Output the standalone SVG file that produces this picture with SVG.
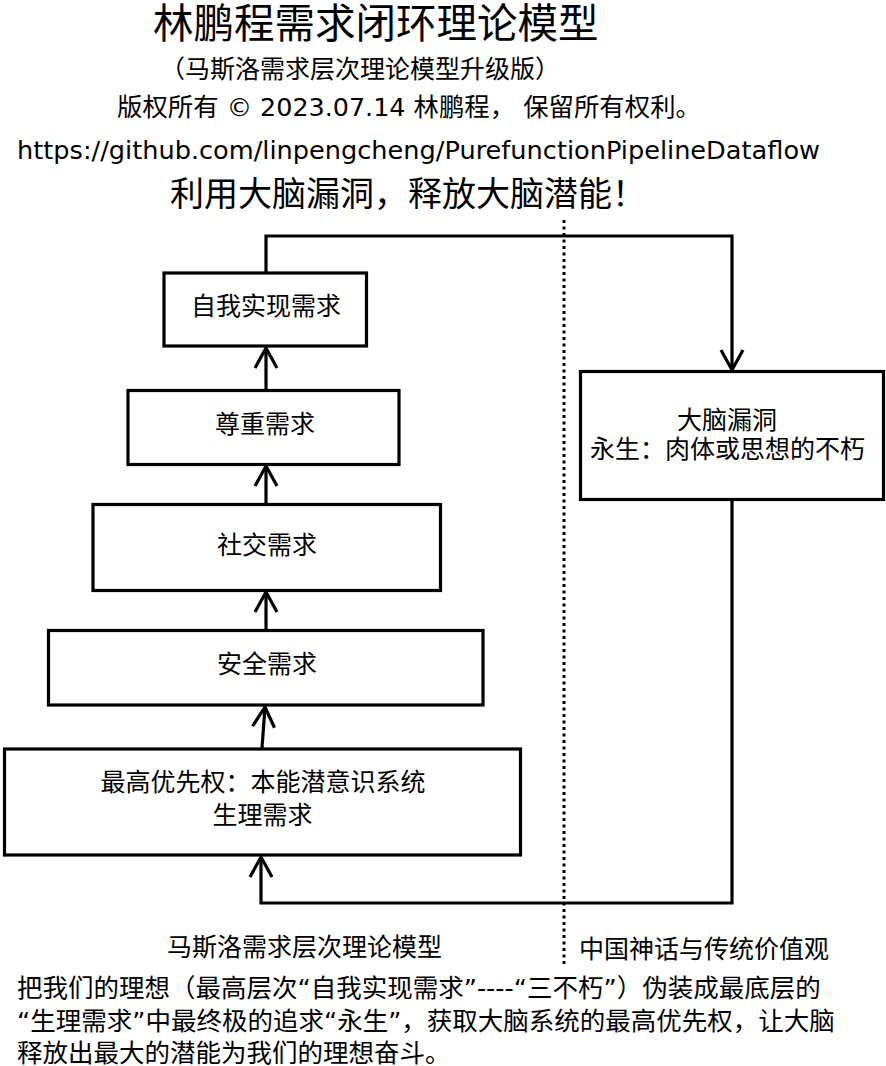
<svg xmlns="http://www.w3.org/2000/svg" width="886" height="1066" viewBox="0 0 886 1066">
  <style>
    text { font-family: "DejaVu Sans", "Noto Sans CJK SC", sans-serif; fill: #000; }
    .t25 { font-size: 25px; }
    .mid { text-anchor: middle; }
    .box { fill: #fff; stroke: #000; stroke-width: 3.2; }
    .wire { fill: none; stroke: #000; stroke-width: 3.2; }
    .divider { fill: none; stroke: #000; stroke-width: 3; stroke-dasharray: 3 3.5; }
  </style>
  <defs>
    <marker id="vee" markerUnits="userSpaceOnUse" viewBox="-24 -14 28 28" refX="0" refY="0" markerWidth="28" markerHeight="28" orient="auto" overflow="visible">
      <path d="M -20 -11 L 0 0 L -20 11" fill="none" stroke="#000" stroke-width="3.2" stroke-linejoin="miter"/>
    </marker>
  </defs>

  <rect width="886" height="1066" fill="#fff"/>

  <!-- header -->
  <g id="header">
    <text x="153" y="38" style="font-size:40.5px">林鹏程需求闭环理论模型</text>
    <text x="160" y="78" class="t25">（马斯洛需求层次理论模型升级版）</text>
    <text x="117" y="116" style="font-size:25.4px">版权所有 © 2023.07.14 林鹏程， 保留所有权利。</text>
    <text x="17" y="159" class="t25" textLength="803" lengthAdjust="spacingAndGlyphs">https://github.com/linpengcheng/PurefunctionPipelineDataflow</text>
    <text x="170" y="206" style="font-size:34px">利用大脑漏洞，释放大脑潜能！</text>
  </g>

  <!-- divider between the two columns -->
  <line class="divider" x1="564" y1="220" x2="564" y2="966"/>

  <!-- connectors -->
  <g id="connectors">
    <line class="wire" x1="266" y1="389" x2="266" y2="348" marker-end="url(#vee)"/>
    <line class="wire" x1="266" y1="503" x2="266" y2="466" marker-end="url(#vee)"/>
    <line class="wire" x1="266" y1="629" x2="266" y2="592" marker-end="url(#vee)"/>
    <line class="wire" x1="262" y1="748" x2="265" y2="707" marker-end="url(#vee)"/>
    <polyline class="wire" points="266,272 266,236 732,236 732,370" marker-end="url(#vee)"/>
    <polyline class="wire" points="732,500 732,903 261,903 261,857" marker-end="url(#vee)"/>
  </g>

  <!-- nodes -->
  <g id="self-actualization">
    <rect class="box" x="164" y="273" width="202.5" height="73"/>
    <text class="t25 mid" x="266" y="315">自我实现需求</text>
  </g>
  <g id="esteem">
    <rect class="box" x="128" y="390.5" width="271" height="74"/>
    <text class="t25 mid" x="265" y="433">尊重需求</text>
  </g>
  <g id="social">
    <rect class="box" x="93" y="504.5" width="347.5" height="86"/>
    <text class="t25 mid" x="267" y="554">社交需求</text>
  </g>
  <g id="safety">
    <rect class="box" x="48.5" y="630.5" width="434.5" height="74.5"/>
    <text class="t25 mid" x="267" y="673">安全需求</text>
  </g>
  <g id="physiological">
    <rect class="box" x="4.5" y="749" width="516" height="106"/>
    <text class="t25 mid" x="263" y="791">最高优先权：本能潜意识系统</text>
    <text class="t25 mid" x="262.5" y="824">生理需求</text>
  </g>
  <g id="brain-loophole">
    <rect class="box" x="580.5" y="371.5" width="303" height="128"/>
    <text class="t25 mid" x="727" y="429">大脑漏洞</text>
    <text class="t25 mid" x="727.5" y="458">永生：肉体或思想的不朽</text>
  </g>

  <!-- column captions -->
  <g id="captions">
    <text class="t25" x="167" y="956">马斯洛需求层次理论模型</text>
    <text class="t25" x="579" y="958">中国神话与传统价值观</text>
  </g>

  <!-- closing note -->
  <g id="note" style="font-size:25.5px">
    <text x="17" y="997">把我们的理想（最高层次“自我实现需求”----“三不朽”）伪装成最底层的</text>
    <text x="17" y="1030">“生理需求”中最终极的追求“永生”，获取大脑系统的最高优先权，让大脑</text>
    <text x="17" y="1062">释放出最大的潜能为我们的理想奋斗。</text>
  </g>
</svg>
